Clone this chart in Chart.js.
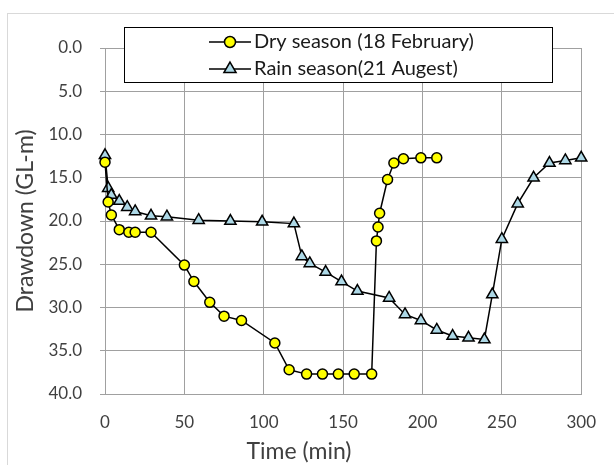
<!DOCTYPE html>
<html>
<head>
<meta charset="utf-8">
<script src="https://cdn.jsdelivr.net/npm/chart.js@4/dist/chart.umd.min.js"></script>
<style>
  body { margin: 0; background: #fff; }
  #wrap { width: 614px; height: 465px; }
</style>
</head>
<body>
<div id="wrap"><canvas id="myCanvas" width="614" height="465"></canvas></div>
<script>
// values
const dryTime = [0, 2, 4, 9, 15, 19, 29, 50, 56, 66, 75, 86, 107, 116, 127, 137, 147, 157, 168, 171, 172, 173, 178, 182, 188, 199, 209];
const dryDrawdown = [13.2, 17.8, 19.3, 21.0, 21.3, 21.3, 21.3, 25.1, 27.0, 29.4, 31.0, 31.5, 34.1, 37.2, 37.7, 37.7, 37.7, 37.7, 37.7, 22.3, 20.7, 19.1, 15.2, 13.3, 12.8, 12.7, 12.7];

const rainTime = [0, 2, 4, 9, 14, 19, 29, 39, 59, 79, 99, 119, 124, 129, 139, 149, 159, 179, 189, 199, 209, 219, 229, 239, 244, 250, 260, 270, 280, 290, 300];
const rainDrawdown = [12.4, 16.2, 17.0, 17.7, 18.4, 18.9, 19.4, 19.5, 19.9, 20.0, 20.1, 20.3, 24.1, 24.9, 25.9, 27.0, 28.1, 28.9, 30.8, 31.5, 32.6, 33.3, 33.5, 33.7, 28.5, 22.1, 18.0, 15.0, 13.3, 13.0, 12.7];

const seriesNames = ["Dry season (18 February)", "Rain season(21 Augest)"];

const toPoints = (xs, ys) => xs.map((x, i) => ({ x: x, y: ys[i] }));

const FONT = "Lato";
const TEXT = "#404040";
const GRID = "#a0a0a0";

const dryStyle = { pointStyle: "circle", radius: 5, fill: "#ffff00" };
const rainStyle = { pointStyle: "triangle", radius: 6.5, fill: "#add8e6" };

// white page + faint outer frame like the spreadsheet chart area
const frame = {
    id: "frame",
    afterLayout(chart) {
        // x title sits a bit right of the canvas middle in the original
        if (chart.titleBlock) chart.titleBlock.left = 15;
    },
    beforeDraw(chart) {
        const c = chart.ctx;
        c.save();
        c.fillStyle = "#fff";
        c.fillRect(0, 0, chart.width, chart.height);
        c.strokeStyle = "#d9d9d9";
        c.lineWidth = 1;
        c.strokeRect(7.5, 13.5, 700, 600);
        c.restore();
    }
};

// boxed legend sitting over the top of the plot
const boxLegend = {
    id: "boxLegend",
    afterDraw(chart) {
        const c = chart.ctx;
        c.save();
        c.fillStyle = "#fff";
        c.fillRect(124, 27, 428, 55);
        c.strokeStyle = "#000";
        c.lineWidth = 1;
        c.strokeRect(124.5, 27.5, 428, 55);

        const rows = [[seriesNames[0], dryStyle, 42], [seriesNames[1], rainStyle, 69]];
        rows.forEach(([label, st, y]) => {
            c.strokeStyle = "#000";
            c.lineWidth = 1.5;
            c.beginPath();
            c.moveTo(209, y);
            c.lineTo(251, y);
            c.stroke();
            c.fillStyle = st.fill;
            Chart.helpers.drawPoint(c, { pointStyle: st.pointStyle, radius: st.radius + 0.5, borderWidth: 1.5, rotation: 0 }, 230, y);
            c.fillStyle = "#1a1a1a";
            c.font = "20px " + FONT;
            c.textBaseline = "middle";
            c.textAlign = "left";
            c.fillText(label, 254, y);
        });
        c.restore();
    }
};

const chart = new Chart(document.getElementById("myCanvas"), {
    type: "scatter",
    data: {
        datasets: [
            {
                label: seriesNames[0],
                data: toPoints(dryTime, dryDrawdown),
                showLine: true,
                clip: false,
                borderColor: "#000",
                borderWidth: 1.5,
                pointStyle: dryStyle.pointStyle,
                pointRadius: dryStyle.radius,
                pointBackgroundColor: dryStyle.fill,
                pointBorderColor: "#000",
                pointBorderWidth: 1.5
            },
            {
                label: seriesNames[1],
                data: toPoints(rainTime, rainDrawdown),
                showLine: true,
                clip: false,
                borderColor: "#000",
                borderWidth: 1.5,
                pointStyle: rainStyle.pointStyle,
                pointRadius: rainStyle.radius,
                pointBackgroundColor: rainStyle.fill,
                pointBorderColor: "#000",
                pointBorderWidth: 1.5
            }
        ]
    },
    options: {
        responsive: false,
        animation: false,
        layout: { padding: { top: 48, left: 0, right: 31, bottom: 0 } },
        scales: {
            x: {
                type: "linear",
                min: 0,
                max: 300,
                ticks: { stepSize: 50, color: TEXT, padding: 18, font: { family: FONT, size: 17 } },
                grid: { color: GRID, drawTicks: false },
                border: { color: GRID },
                afterFit: s => { s.height = 35.4; }
            },
            y: {
                reverse: true,
                min: 0,
                max: 40,
                ticks: {
                    stepSize: 5,
                    color: TEXT,
                    padding: 18,
                    font: { family: FONT, size: 17 },
                    callback: v => v.toFixed(1)
                },
                grid: { color: GRID, tickLength: 5 },
                border: { color: GRID },
                title: {
                    display: true,
                    text: "Drawdown (GL-m)",
                    color: TEXT,
                    font: { family: FONT, size: 23 },
                    padding: { top: 12, bottom: 0 }
                },
                afterFit: s => { s.width = 105; }
            }
        },
        plugins: {
            legend: { display: false },
            tooltip: { enabled: false },
            title: {
                display: true,
                position: "bottom",
                text: "Time (min)",
                color: TEXT,
                font: { family: FONT, size: 23, weight: "normal" },
                padding: { top: 8, bottom: 0 }
            }
        }
    },
    plugins: [frame, boxLegend]
});
</script>
</body>
</html>
